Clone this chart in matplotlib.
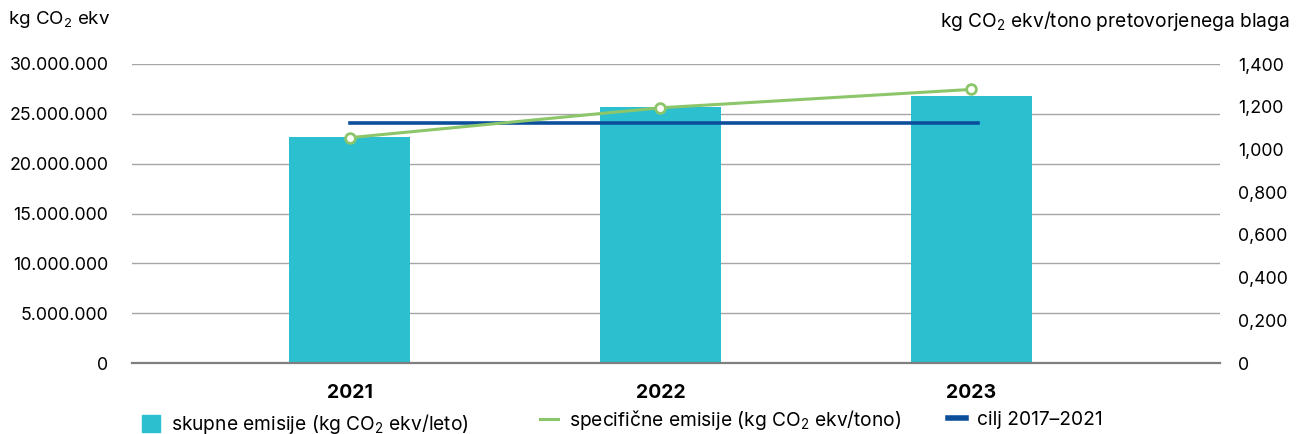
import matplotlib
matplotlib.use('Agg')
import matplotlib.pyplot as plt
from matplotlib.lines import Line2D
from matplotlib.patches import Patch
from matplotlib.ticker import FuncFormatter

plt.rcParams['font.family'] = ['Inter', 'DejaVu Sans']
plt.rcParams['mathtext.fontset'] = 'custom'
plt.rcParams['mathtext.rm'] = 'Inter'
plt.rcParams['mathtext.it'] = 'Inter'

# data
years = ['2021', '2022', '2023']
total_emissions = [22700000, 25700000, 26800000]      # kg CO2 ekv/leto
specific_emissions = [1.055, 1.195, 1.281]           # kg CO2 ekv/tono
target_value = 1.122                                 # cilj 2017-2021
left_ticks = [0, 5000000, 10000000, 15000000, 20000000, 25000000, 30000000]
right_ticks = [0, 0.2, 0.4, 0.6, 0.8, 1.0, 1.2, 1.4]

bar_color = '#2bbfcf'
green = '#8cc66a'
blue = '#0b4f9b'
CO2 = r'CO$_\mathregular{2}$'


def fmt_right(v, p):
    if v == 0:
        return '0'
    return f'{v:.3f}'.replace('.', ',')


fig = plt.figure(figsize=(12.96, 4.34), dpi=100)
ax = fig.add_axes([132 / 1296, 1 - 363 / 434, (1220 - 132) / 1296, 299 / 434])
x = list(range(len(years)))

ax.bar(x, total_emissions, width=0.39, color=bar_color, zorder=2)
ax.set_xlim(-0.7, 2.8)
ax.set_ylim(0, 30000000)
ax.set_yticks(left_ticks)
ax.yaxis.set_major_formatter(FuncFormatter(lambda v, p: f'{int(v):,}'.replace(',', '.')))
ax.grid(axis='y', color='#a6a6a6', linewidth=1, zorder=0)
ax.set_xticks(x)
ax.set_xticklabels(years, fontweight='bold', fontsize=14)
ax.tick_params(axis='x', length=0, pad=15)
ax.tick_params(axis='y', length=0, pad=17, labelsize=12.8)
for s in ['top', 'right', 'left']:
    ax.spines[s].set_visible(False)
ax.spines['bottom'].set_color('#7f7f7f')
ax.spines['bottom'].set_linewidth(1.6)
ax.spines['bottom'].set_zorder(3)

ax2 = ax.twinx()
ax2.set_ylim(0, 1.4)
ax2.set_yticks(right_ticks)
ax2.yaxis.set_major_formatter(FuncFormatter(fmt_right))
ax2.tick_params(axis='y', length=0, pad=13, labelsize=12.8)
for s in ax2.spines.values():
    s.set_visible(False)
ax2.plot([x[0], x[-1] + 0.02], [target_value, target_value], color=blue, linewidth=2.6, zorder=3)
ax2.plot(x, specific_emissions, color=green, linewidth=2.2, marker='o', markersize=7,
         markerfacecolor='white', markeredgecolor=green, markeredgewidth=2, zorder=4)

fig.text(8 / 1296, 1 - 20 / 434, f'kg {CO2} ekv', fontsize=13.5, va='center', ha='left')
fig.text(1290 / 1296, 1 - 21 / 434, f'kg {CO2} ekv/tono pretovorjenega blaga',
         fontsize=13.8, va='center', ha='right')

legend_items = [
    (Patch(color=bar_color), f'skupne emisije (kg {CO2} ekv/leto)', 142, 424),
    (Line2D([], [], color=green, linewidth=2.2), f'specifične emisije (kg {CO2} ekv/tono)', 540, 420),
    (Line2D([], [], color=blue, linewidth=4), 'cilj 2017–2021', 948, 420),
]
for handle, label, xpos, ypos in legend_items:
    fig.legend([handle], [label], loc='center left', bbox_to_anchor=(xpos / 1296, 1 - ypos / 434),
               frameon=False, fontsize=13.8, handlelength=0.95, handleheight=0.95,
               handletextpad=0.55, borderaxespad=0, borderpad=0)

fig.savefig('out.png', dpi=100)
